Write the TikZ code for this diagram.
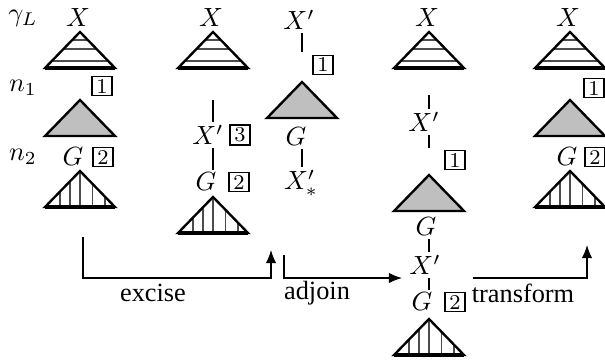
\documentclass[tikz,border=0pt]{standalone}
\usepackage[no-math]{fontspec}
\newfontfamily\opfont{Liberation Serif}
\usetikzlibrary{arrows.meta}
\tikzset{
  lbl/.style={inner sep=1pt},
  ref/.style={draw, line width=0.5pt, inner sep=1pt, minimum width=7.6pt, minimum height=7.2pt, font=\footnotesize},
  op/.style={font=\opfont, inner sep=1pt},
  link/.style={line width=0.5pt},
  flow/.style={-{Latex[length=5pt, width=4pt]}, line width=0.5pt},
  stripe/.style={line width=0.5pt, black!70},
  tri/.style={line width=0.9pt, line join=miter},
  hstripes/.pic={
    \draw[stripe] (-7.8,8) -- (7.8,8) (-16.5,17) -- (16.5,17) (-28.2,29) -- (28.2,29);
    \draw[tri] (0,0) -- (35,36) -- (-35,36) -- cycle;
    \draw[line width=1.3pt] (-35,36) -- (35,36);
  },
  gtri/.pic={
    \draw[tri, fill=black!25] (0,0) -- (35,36) -- (-35,36) -- cycle;
  },
  vstripes/.pic={
    \draw[stripe] (-20,20.6) -- (-20,36) (-10,10.3) -- (-10,36) (0,0) -- (0,36)
      (12.5,12.9) -- (12.5,36) (25,25.7) -- (25,36);
    \draw[tri] (0,0) -- (35,36) -- (-35,36) -- cycle;
    \draw[line width=1.3pt] (-35,36) -- (35,36);
  },
}
\begin{document}
\begin{tikzpicture}[x=0.38pt, y=-0.38pt]
  \useasboundingbox (0,0) rectangle (605,360);
  % row labels
  \node[lbl] (gl) at (23,18) {$\gamma_L$};
  \node[lbl] (nA) at (23,88) {$n_1$};
  \node[lbl] (nB) at (23,157) {$n_2$};
  % first tree
  \node[lbl] (xA) at (78,18) {$X$};
  \pic at (80,32) {hstripes};
  \node[ref] (rA1) at (102,86) {1};
  \pic at (80,100) {gtri};
  \node[lbl] (gA) at (73,157) {$G$};
  \node[ref] (rA2) at (103,157) {2};
  \pic at (80,171) {vstripes};
  % after excision
  \node[lbl] (xB) at (211,18) {$X$};
  \pic at (213,32) {hstripes};
  \coordinate (tB) at (213,100);
  \node[lbl] (xpB) at (208,135) {$X'$};
  \node[ref] (rB3) at (240,135) {3};
  \node[lbl] (gB) at (206,182) {$G$};
  \node[ref] (rB2) at (239,182) {2};
  \pic at (213,197) {vstripes};
  \draw[link] (tB) -- (tB |- xpB.north);
  \draw[link] (xpB.south -| tB) -- (gB.north -| tB);
  % excised piece
  \node[lbl] (xpC) at (299,20) {$X'$};
  \coordinate (tC) at (302,52);
  \node[ref] (rC1) at (323,65) {1};
  \pic at (302,82) {gtri};
  \node[lbl] (gC) at (296,137) {$G$};
  \node[lbl] (xsC) at (301,183) {$X'_*$};
  \draw[link] (xpC.south -| tC) -- (tC);
  \draw[link] (gC.south -| tC) -- (xsC.north -| tC);
  % adjoined tree
  \node[lbl] (xD) at (427,18) {$X$};
  \pic at (429,32) {hstripes};
  \coordinate (tD) at (429,95);
  \node[lbl] (xpD) at (424,122) {$X'$};
  \coordinate (bD) at (429,148);
  \node[ref] (rD1) at (455,160) {1};
  \pic at (429,175) {gtri};
  \node[lbl] (gD) at (426,227) {$G$};
  \node[lbl] (xpD2) at (425,265) {$X'$};
  \node[lbl] (gD2) at (422,302) {$G$};
  \node[ref] (rD2) at (455,302) {2};
  \pic at (429,319) {vstripes};
  \draw[link] (tD) -- (tD |- xpD.north);
  \draw[link] (xpD.south -| tD) -- (bD);
  \draw[link] (gD.south -| tD) -- (xpD2.north -| tD);
  \draw[link] (xpD2.south -| tD) -- (gD2.north -| tD);
  % transformed tree
  \node[lbl] (xE) at (568,18) {$X$};
  \pic at (570,32) {hstripes};
  \node[ref] (rE1) at (594,88) {1};
  \pic at (570,100) {gtri};
  \node[lbl] (gE) at (567,157) {$G$};
  \node[ref] (rE2) at (595,157) {2};
  \pic at (570,171) {vstripes};
  % operations
  \coordinate (exS) at (83,237);
  \coordinate (exM) at (271,278);
  \coordinate (exE) at (271,250);
  \draw[flow] (exS) |- (exM) -- (exE);
  \node[op] (exL) at (153,293) {excise};
  \coordinate (adS) at (284,255);
  \coordinate (adE) at (402,278);
  \draw[flow] (adS) |- (adE);
  \node[op] (adL) at (317,293) {adjoin};
  \coordinate (trS) at (473,278);
  \coordinate (trE) at (587,245);
  \draw[flow] (trS) -| (trE);
  \node[op] (trL) at (523,293) {transform};
\end{tikzpicture}
\end{document}
